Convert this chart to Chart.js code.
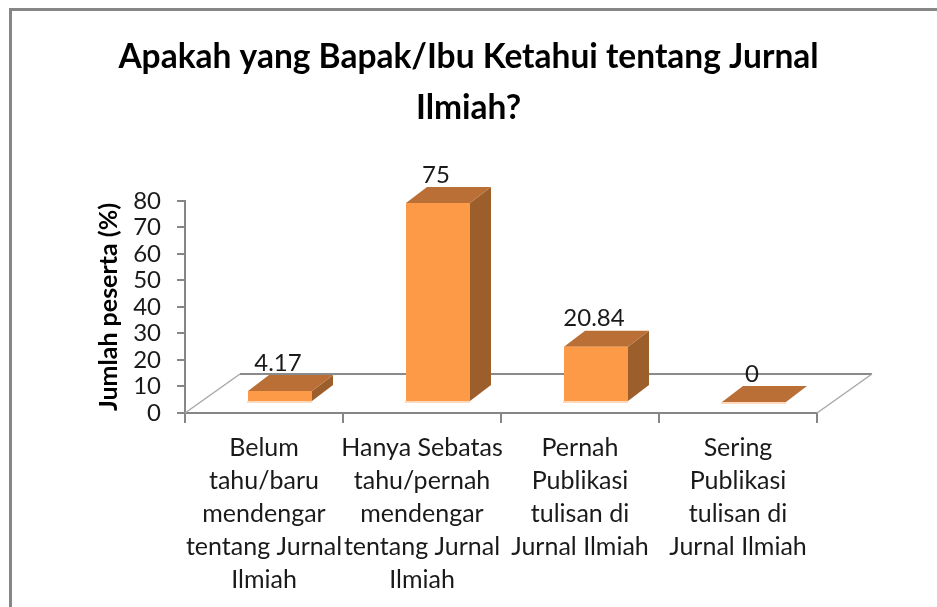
<!DOCTYPE html>
<html><head><meta charset="utf-8">
<style>html,body{margin:0;padding:0;background:#fff;overflow:hidden}canvas{display:block}</style>
<script src="https://cdn.jsdelivr.net/npm/chart.js@4"></script>
</head><body><canvas id="c" width="937" height="607"></canvas>
<script>
const categories = [
  ["Belum","tahu/baru","mendengar","tentang Jurnal","Ilmiah"],
  ["Hanya Sebatas","tahu/pernah","mendengar","tentang Jurnal","Ilmiah"],
  ["Pernah","Publikasi","tulisan di","Jurnal Ilmiah"],
  ["Sering","Publikasi","tulisan di","Jurnal Ilmiah"]
];
const seriesValues = [4.17, 75, 20.84, 0];
const valueLabels = ["4.17", "75", "20.84", "0"];
const titleLines = ["Apakah yang Bapak/Ibu Ketahui tentang Jurnal", "Ilmiah?"];
const yTitle = "Jumlah peserta (%)";

const FONT = "Lato, Carlito, sans-serif";
const floorDepth = {x: 55, y: -39};
const barShift = {x: 16, y: -11};
const barDepth = {x: 21, y: -16};
const axisGray = "#868686";

const threeD = {
  id: "threeD",
  beforeDraw(chart) {
    const c = chart.ctx;
    c.save();
    c.strokeStyle = "#868686"; c.lineWidth = 3;
    c.beginPath(); c.moveTo(10.5, 607); c.lineTo(10.5, 9.5); c.lineTo(937, 9.5); c.stroke();
    c.restore();
  },
  beforeDatasetsDraw(chart) {
    const c = chart.ctx, a = chart.chartArea;
    c.save();
    c.strokeStyle = "#8a8a8a"; c.lineWidth = 2;
    c.beginPath();
    c.moveTo(a.left + floorDepth.x, a.bottom + floorDepth.y);
    c.lineTo(a.right + floorDepth.x, a.bottom + floorDepth.y);
    c.stroke();
    c.strokeStyle = "#a8a8a8"; c.lineWidth = 1.5;
    c.beginPath();
    c.moveTo(a.left, a.bottom); c.lineTo(a.left + floorDepth.x, a.bottom + floorDepth.y);
    c.moveTo(a.right, a.bottom); c.lineTo(a.right + floorDepth.x, a.bottom + floorDepth.y);
    c.stroke();
    c.restore();
  },
  beforeDatasetDraw(chart) {
    const c = chart.ctx;
    chart.getDatasetMeta(0).data.forEach(el => {
      const p = el.getProps(["x","y","base","width"], true);
      const l = p.x - p.width/2 + barShift.x, r = p.x + p.width/2 + barShift.x;
      const t = p.y + barShift.y, b = p.base + barShift.y;
      c.save();
      c.fillStyle = "#9C5F2C";
      c.beginPath(); c.moveTo(r,t); c.lineTo(r+barDepth.x,t+barDepth.y); c.lineTo(r+barDepth.x,b+barDepth.y); c.lineTo(r,b); c.closePath(); c.fill();
      c.fillStyle = "#B96F35";
      c.beginPath(); c.moveTo(l,t); c.lineTo(r,t); c.lineTo(r+barDepth.x,t+barDepth.y); c.lineTo(l+barDepth.x,t+barDepth.y); c.closePath(); c.fill();
      c.restore();
    });
    c.save();
    c.translate(barShift.x, barShift.y);
  },
  afterDatasetDraw(chart) {
    const c = chart.ctx;
    c.restore();
    chart.getDatasetMeta(0).data.forEach((el,i) => {
      const p = el.getProps(["x","y","base","width"], true);
      const l = p.x - p.width/2 + barShift.x, r = p.x + p.width/2 + barShift.x;
      const t = p.y + barShift.y, b = p.base + barShift.y;
      c.save();
      c.strokeStyle = "#FFD9BC"; c.lineWidth = 2;
      c.beginPath(); c.moveTo(l-1,b+1); c.lineTo(r,b+1); c.stroke();
      c.fillStyle = "#1a1a1a";
      c.font = "24px " + FONT; c.textAlign = "center"; c.textBaseline = "middle";
      c.fillText(valueLabels[i], p.x + barShift.x - 2, t + barDepth.y - 12);
      c.restore();
    });
  }
};

new Chart(document.getElementById("c"), {
  type: "bar",
  data: { labels: categories, datasets: [{
    data: seriesValues,
    backgroundColor: "#FD9A47",
    borderWidth: 0,
    barPercentage: 0.405,
    categoryPercentage: 1,
    clip: false
  }]},
  plugins: [threeD],
  options: {
    responsive: false,
    animation: false,
    layout: { autoPadding: false, padding: 0 },
    plugins: {
      legend: {display: false},
      tooltip: {enabled: false},
      title: {
        display: true, text: titleLines, color: "#000",
        font: {family: FONT, size: 33.5, weight: "bold", lineHeight: 1.52},
        padding: {top: 32, bottom: 67}
      }
    },
    scales: {
      x: {
        afterFit(s) { s.height = 194; },
        grid: {drawOnChartArea: false, color: axisGray, lineWidth: 2, tickLength: 10, tickColor: axisGray},
        border: {color: axisGray, width: 2},
        ticks: {autoSkip: false, maxRotation: 0, minRotation: 0, color: "#1a1a1a", padding: 8,
          font: {family: FONT, size: 25, lineHeight: 1.32}}
      },
      y: {
        min: 0, max: 80,
        afterFit(s) { s.width = 185; },
        grid: {drawOnChartArea: false, color: axisGray, lineWidth: 2, tickLength: 8, tickColor: axisGray},
        border: {color: axisGray, width: 2},
        ticks: {stepSize: 10, autoSkip: false, color: "#1a1a1a", padding: 16, font: {family: FONT, size: 24}},
        title: {display: true, text: yTitle, color: "#000", padding: {top: 94, bottom: 0},
          font: {family: FONT, size: 25, weight: "bold"}}
      },
      rightGap: {
        position: "right", display: true,
        afterFit(s) { s.width = 120; },
        grid: {display: false}, border: {display: false}, ticks: {display: false}
      }
    }
  }
});
</script></body></html>
